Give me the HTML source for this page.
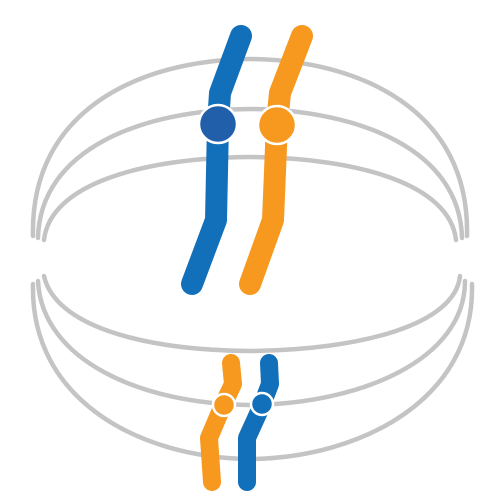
<!DOCTYPE html>
<html><head><meta charset="utf-8"><style>html,body{margin:0;padding:0;background:#fff}svg{display:block}</style></head>
<body>
<svg width="500" height="500" viewBox="0 0 500 500">
 <g fill="none" stroke="#c4c4c4" stroke-width="4.5" stroke-linecap="round">
  <path d="M33,236 C30,110 140,60 250,59 C360,60 470,110 467,236"/>
  <path d="M38,238 C40,150 140,110 250,109 C360,110 460,150 462,238"/>
  <path d="M44,240 C50,185 140,158 250,157 C360,158 450,185 456,240"/>
  <path d="M33,284 C30,400 140,458 250,459 C360,458 475,400 472,284"/>
  <path d="M38,281 C42,360 140,404 250,405 C360,404 465,360 465,281"/>
  <path d="M44,276 C55,325 140,350 250,351 C360,350 455,325 460,276"/>
 </g>
 <g fill="none" stroke-linecap="round" stroke-linejoin="round">
  <path stroke="#1270bb" stroke-width="22" d="M241,36 L220,93 L218,123 L216,220 L192,284"/>
  <path stroke="#f7981f" stroke-width="22" d="M302,36 L280,93 L277,123 L273,220 L250,284"/>
  <path stroke="#f7981f" stroke-width="18" d="M231,363 L233,384 L223,405 L209,438 L212,482"/>
  <path stroke="#1270bb" stroke-width="18" d="M269,363 L270,384 L262,405 L247,438 L247,482"/>
 </g>
 <circle cx="218" cy="124" r="19" fill="#225fab" stroke="#fff" stroke-width="2.5"/>
 <circle cx="277" cy="125" r="19" fill="#f7981f" stroke="#fff" stroke-width="2.5"/>
 <circle cx="224" cy="405" r="11" fill="#f7981f" stroke="#fff" stroke-width="2.5"/>
 <circle cx="262" cy="404" r="11" fill="#1270bb" stroke="#fff" stroke-width="2.5"/>
</svg>
</body></html>
